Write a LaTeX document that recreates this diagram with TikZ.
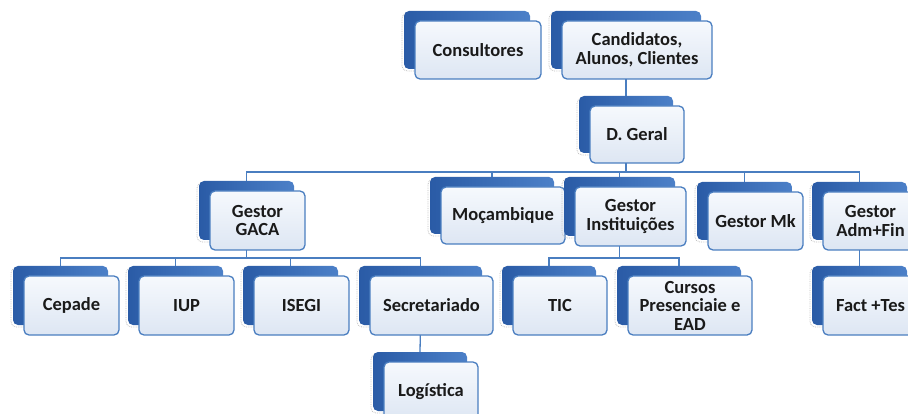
\documentclass[tikz,border=0pt]{standalone}
\usepackage{fontspec}
\setmainfont{Carlito}
\usetikzlibrary{backgrounds}
\definecolor{backdark}{HTML}{2A5BA6}
\definecolor{backlight}{HTML}{4C80C8}
\definecolor{frontedge}{HTML}{4A7EC0}
\definecolor{fronttop}{HTML}{F6F9FD}
\definecolor{frontbot}{HTML}{DDE6F3}
\definecolor{linkblue}{HTML}{4A7EC0}
\definecolor{txt}{HTML}{1A1A1A}
\tikzset{
  backbox/.style={rounded corners=5pt, left color=backdark, right color=backlight, draw=none, inner sep=0pt},
  shadowbox/.style={rounded corners=5pt, draw=gray!50, densely dotted, line width=0.8pt, inner sep=0pt},
  frontbox/.style={rounded corners=5pt, top color=fronttop, bottom color=frontbot, draw=frontedge, line width=1.3pt, inner sep=0pt},
  lbl/.style={font=\bfseries\fontsize{18.5}{18.5}\selectfont, text=txt, align=center, inner sep=0pt},
  link/.style={draw=linkblue, line width=1.3pt}
}
\newcommand\orgbox[6]{%
  \pgfmathsetmacro\cx{(#2+#4)/2}%
  \pgfmathsetmacro\cy{(#3+#5)/2}%
  \pgfmathsetmacro\bw{#4-#2}%
  \pgfmathsetmacro\bh{#5-#3}%
  \node[shadowbox, minimum width=\bw pt, minimum height=\bh pt] (#1S) at (\cx-13,\cy-8) {};
  \node[backbox, minimum width=\bw pt, minimum height=\bh pt] (#1) at (\cx-11,\cy-10) {};
  \node[frontbox, minimum width=\bw pt, minimum height=\bh pt] (#1F) at (\cx,\cy) {};
  \node[lbl] (#1T) at (\cx,\cy) {#6};
}
\begin{document}
\begin{tikzpicture}[x=1pt,y=-1pt]
\useasboundingbox (0,0) rectangle (908,414);
\clip (0,0) rectangle (908,414);
\orgbox{cons}{415}{21}{541}{79}{Consultores}
\orgbox{cand}{562}{21}{712}{79}{Candidatos,\\Alunos, Clientes}
\orgbox{dg}{590}{106}{684}{163}{D. Geral}
\orgbox{gaca}{210}{191}{305}{250}{Gestor\\GACA}
\orgbox{moz}{441}{187}{565}{244}{Moçambique}
\orgbox{inst}{575}{187}{686}{246}{Gestor\\Instituições}
\orgbox{mk}{708}{192}{803}{250}{Gestor Mk}
\orgbox{adm}{823}{192}{918}{250}{Gestor\\Adm+Fin}
\orgbox{cep}{24}{276}{119}{335}{Cepade}
\orgbox{iup}{139}{276}{234}{335}{IUP}
\orgbox{isegi}{254}{276}{349}{335}{ISEGI}
\orgbox{sec}{370}{276}{493}{335}{Secretariado}
\orgbox{log}{384}{362}{478}{421}{Logística}
\orgbox{tic}{513}{276}{607}{335}{TIC}
\orgbox{cur}{628}{276}{752}{335}{Cursos\\Presenciaie e\\EAD}
\orgbox{fact}{823}{276}{918}{335}{Fact +Tes}
\coordinate (barA) at (0,172);
\coordinate (barB) at (0,258);
\begin{pgfonlayer}{background}
\draw[link] (cand.south) -- (dg.north);
\foreach \c in {gaca,moz,inst,mk,adm}
  \draw[link] (dg.south) -- (dg.south |- barA) -| (\c.north);
\foreach \c in {cep,iup,isegi,sec}
  \draw[link] (gaca.south) -- (gaca.south |- barB) -| (\c.north);
\foreach \c in {tic,cur}
  \draw[link] (inst.south) -- (inst.south |- barB) -| (\c.north);
\draw[link] (adm.south) -- (fact.north);
\draw[link] (sec.south) -- (log.north);
\end{pgfonlayer}
\end{tikzpicture}
\end{document}
